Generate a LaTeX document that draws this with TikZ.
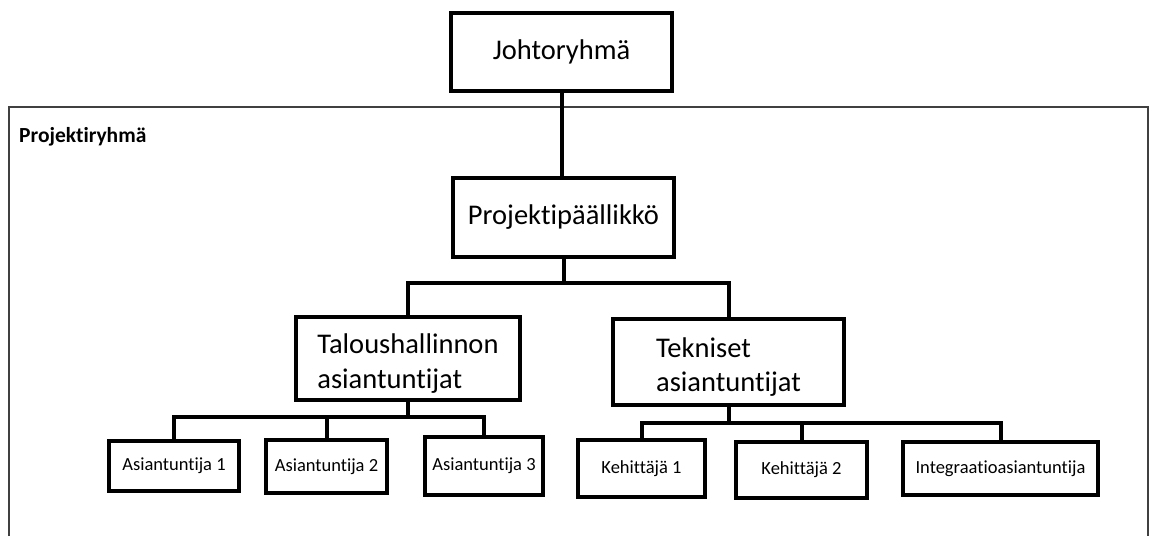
\documentclass[tikz,border=0pt]{standalone}
\usepackage{fontspec}
\setmainfont{Carlito}[Ligatures=NoCommon]
\newcommand{\orgbig}{\fontsize{28.5}{34.5}\selectfont}
\newcommand{\orgsmall}{\fontsize{18.5}{22}\selectfont}
\newcommand{\orglabel}{\fontsize{21.5}{26}\selectfont\bfseries}
\newcommand{\toppad}{\rule{0pt}{30pt}}
\tikzset{
  box/.style={draw, line width=4pt, fill=white, inner sep=0pt},
  bigbox/.style={box, font=\orgbig, align=left},
  smallbox/.style={box, font=\orgsmall},
  link/.style={line width=4pt},
  frame/.style={draw=black!75, line width=1.2pt}
}
\begin{document}
\begin{tikzpicture}[x=1pt, y=-1pt]
    \useasboundingbox (0,0) rectangle (1157,536);

    % Project group frame
    \draw[frame] (9,536) |- (1148,107) -- (1148,536);
    \node[font=\orglabel, anchor=base west, inner sep=0pt] (prlabel) at (19,142) {Projektiryhmä};

    % Management
    \node[bigbox, minimum width=221pt, minimum height=78pt] (jory) at (561.5,52) {Johtoryhmä};
    \node[bigbox, minimum width=221pt, minimum height=79pt] (pp) at (563.5,217.5) {Projektipäällikkö};

    % Expert groups
    \node[bigbox, minimum width=224pt, minimum height=83pt] (talous) at (408,358.5) {\toppad Taloushallinnon\\asiantuntijat};
    \node[bigbox, minimum width=231pt, minimum height=86pt] (tekn) at (728.5,362) {\toppad Tekniset\\asiantuntijat};

    % Finance experts
    \node[smallbox, minimum width=130pt, minimum height=50pt] (a1) at (174,466) {Asiantuntija 1};
    \node[smallbox, minimum width=121pt, minimum height=53pt] (a2) at (326.5,466.5) {Asiantuntija 2};
    \node[smallbox, minimum width=118pt, minimum height=58pt] (a3) at (484,466) {Asiantuntija 3};

    % Technical experts
    \node[smallbox, minimum width=127pt, minimum height=57pt] (k1) at (641.5,468.5) {Kehittäjä 1};
    \node[smallbox, minimum width=131pt, minimum height=56pt] (k2) at (801.5,470) {Kehittäjä 2};
    \node[smallbox, minimum width=195pt, minimum height=53pt] (int) at (1000.5,468.5) {Integraatioasiantuntija};

    % Connectors
    \coordinate (ppbar) at (563,283);
    \coordinate (talbar) at (409,417);
    \coordinate (tekbar) at (730,423);

    \draw[link] (jory.south) -- (jory.south |- pp.north);
    \draw[link] (pp.south) -- (pp.south |- ppbar);
    \draw[link] (talous.north) |- (ppbar) -| (tekn.north);

    \draw[link] (talous.south) -- (talous.south |- talbar);
    \draw[link] (a1.north) |- (talbar) -| (a3.north);
    \draw[link] (a2.north) -- (a2.north |- talbar);

    \draw[link] (tekn.south) -- (tekn.south |- tekbar);
    \draw[link] (k1.north) |- (tekbar) -| (int.north);
    \draw[link] (k2.north) -- (k2.north |- tekbar);
\end{tikzpicture}
\end{document}
